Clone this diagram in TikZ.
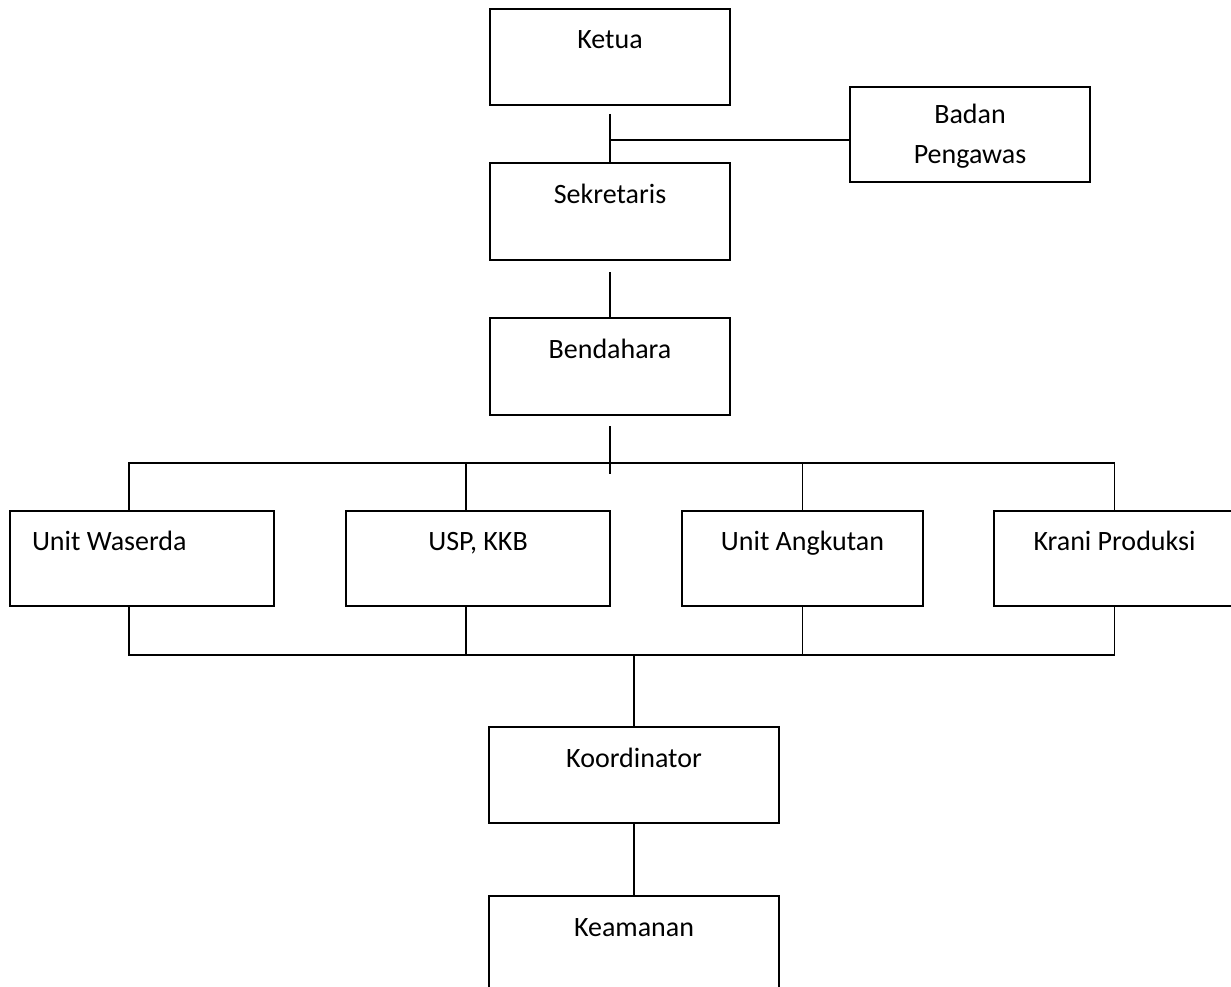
\documentclass[tikz,border=0pt]{standalone}
\usepackage{fontspec}
\setmainfont{Carlito}
\usepackage{tikz}
\usetikzlibrary{positioning}

\begin{document}
\begin{tikzpicture}[
  x=1pt, y=-1pt,
  font=\fontsize{28}{40}\selectfont,
  box/.style={draw=black, line width=1.6pt, anchor=north west, align=center,
    inner sep=0pt, outer sep=0pt, minimum width=240pt, minimum height=96pt,
    text height=19pt, text depth=35pt},
  wbox/.style={box, minimum width=264pt},
  lbox/.style={box, minimum width=290pt},
  line/.style={line width=1.6pt}
]
\useasboundingbox (0,0) rectangle (1231,987);
\node[box] (ketua) at (490,9) {Ketua};
\node[box, minimum height=95pt, text height=59pt, text depth=-5pt] (badan) at (850,87) {Badan\\Pengawas};
\node[box, minimum height=97pt] (sekretaris) at (490,163) {Sekretaris};
\node[box, minimum height=97pt] (bendahara) at (490,318) {Bendahara};
\node[wbox, minimum height=95pt, text width=220pt, align=flush left, inner xsep=22pt] (waserda) at (10,511) {Unit Waserda};
\node[wbox, minimum height=95pt] (usp) at (346,511) {USP, KKB};
\node[box, minimum width=241pt, minimum height=95pt] (angkutan) at (682,511) {Unit Angkutan};
\node[box, minimum width=241pt, minimum height=95pt] (krani) at (994,511) {Krani Produksi};
\node[lbox] (koordinator) at (489,727) {Koordinator};
\node[lbox, minimum height=100pt, text depth=39pt] (keamanan) at (489,896) {Keamanan};

\draw[line] ([yshift=-9pt]ketua.south) -- (sekretaris.north);
\draw[line] ([yshift=-5.5pt]badan.west) -- ([yshift=-5.5pt]badan.west -| ketua.south);
\draw[line] ([yshift=-12pt]sekretaris.south) -- (bendahara.north);
\draw[line] ([yshift=-11pt]bendahara.south) -- ++(0,48);
% atas unit
\draw[line] ([xshift=-13pt]waserda.north) -- ++(0,-48) -| (krani.north);
\draw[line] ([xshift=-12pt]usp.north) -- ++(0,-48);
\draw[line] (angkutan.north) -- ++(0,-48);
% bawah unit
\draw[line] ([xshift=-13pt]waserda.south) -- ++(0,49) -| (krani.south);
\draw[line] ([xshift=-12pt]usp.south) -- ++(0,49);
\draw[line] (angkutan.south) -- ++(0,49);
\draw[line] (koordinator.north) -- ++(0,-72);
\draw[line] (koordinator.south) -- (keamanan.north);
\end{tikzpicture}
\end{document}
